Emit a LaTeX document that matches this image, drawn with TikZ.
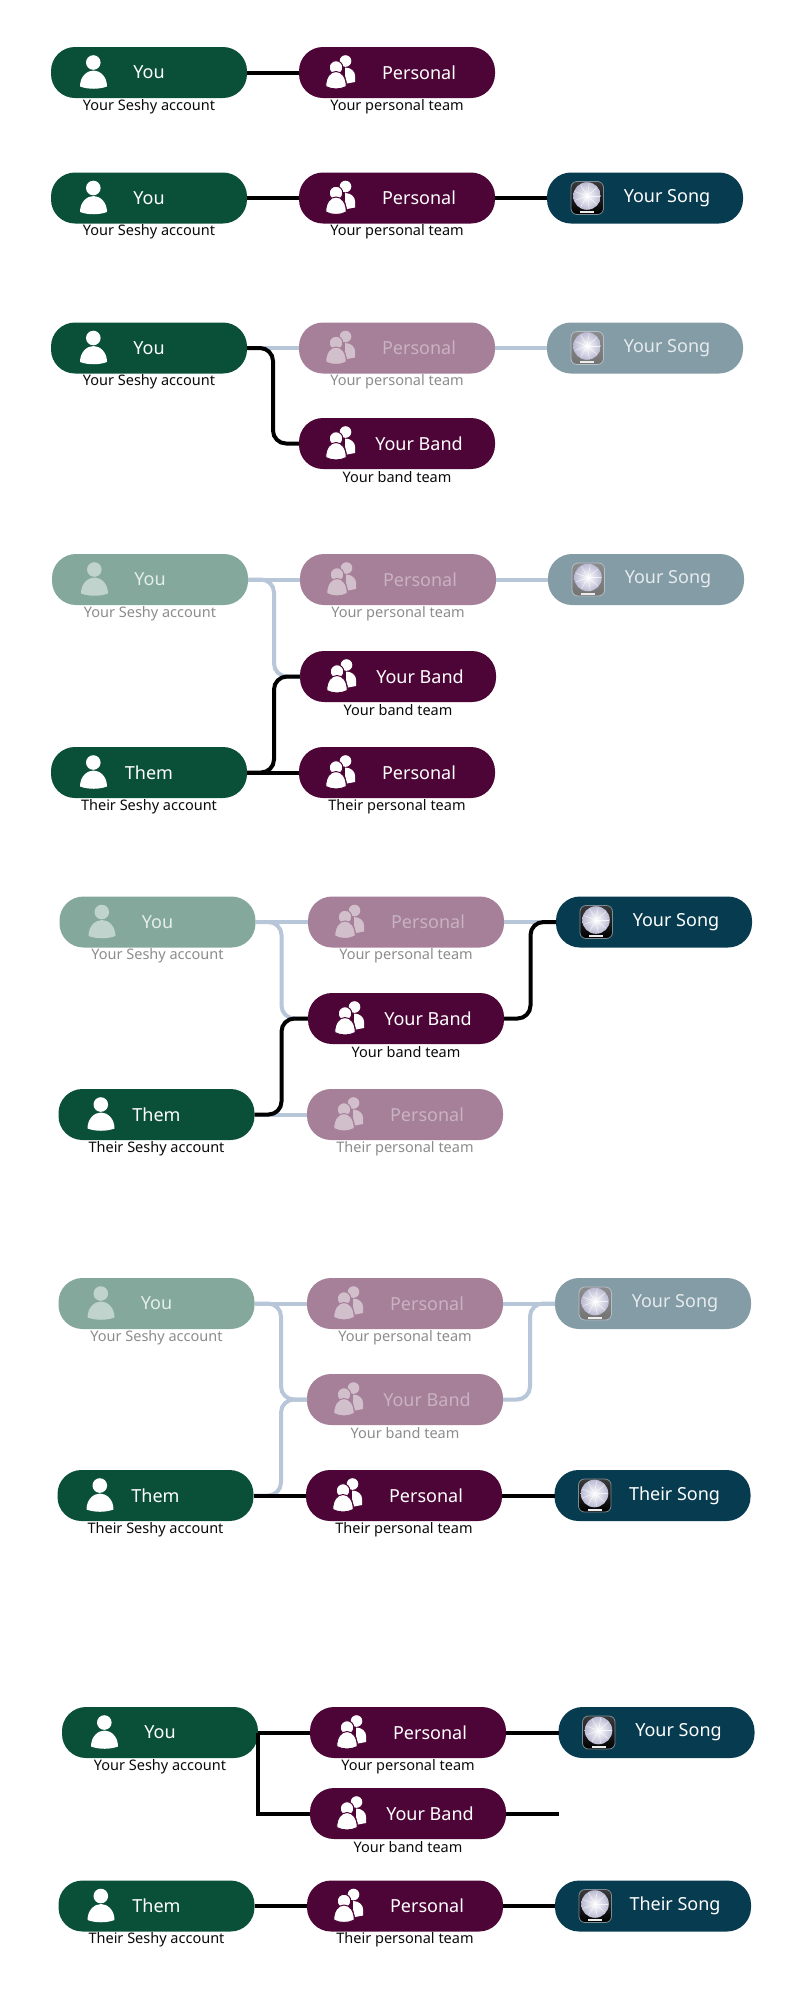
\documentclass[tikz,border=0pt]{standalone}
\usepackage{fontspec}
\setmainfont{Noto Sans}
\usetikzlibrary{calc}
\definecolor{pillpersonon}{HTML}{0A5039}
\definecolor{pillpersonoff}{HTML}{84A89B}
\definecolor{pillgroupon}{HTML}{4D0537}
\definecolor{pillgroupoff}{HTML}{A67F99}
\definecolor{pilldiscon}{HTML}{073B4F}
\definecolor{pilldiscoff}{HTML}{849CA6}
\definecolor{glyphpersonon}{HTML}{FFFFFF}
\definecolor{glyphpersonoff}{HTML}{C1D3CD}
\definecolor{glyphgroupon}{HTML}{FFFFFF}
\definecolor{glyphgroupoff}{HTML}{D2BFCC}
\definecolor{titlepersonon}{HTML}{FFFFFF}
\definecolor{titlepersonoff}{HTML}{E6EEEB}
\definecolor{titlegroupon}{HTML}{FFFFFF}
\definecolor{titlegroupoff}{HTML}{C9B2C2}
\definecolor{titlediscon}{HTML}{FFFFFF}
\definecolor{titlediscoff}{HTML}{E6EBED}
\definecolor{subon}{HTML}{0A0A0A}
\definecolor{suboff}{HTML}{8C8C8C}
\definecolor{paleline}{HTML}{B7C6D8}
\definecolor{squaretopon}{HTML}{3A3A3A}
\definecolor{squareboton}{HTML}{000000}
\definecolor{squaretopoff}{HTML}{8C8C8C}
\definecolor{squarebotoff}{HTML}{737373}
\definecolor{squareedgeon}{HTML}{7C8A94}
\definecolor{squareedgeoff}{HTML}{B5C0C6}
\tikzset{
  pillbox/.style={rectangle,rounded corners=24pt,minimum width=196pt,minimum height=51pt,inner sep=0pt,outer sep=0pt},
  titletext/.style={inner sep=0pt,font=\fontsize{18}{20}\selectfont,anchor=center},
  subtext/.style={inner sep=0pt,font=\fontsize{14.5}{16}\selectfont,anchor=center},
  darkline/.style={draw=black,line width=4pt},
  paleroute/.style={draw=paleline,line width=4pt,rounded corners=13pt},
  darkroute/.style={draw=black,line width=4pt,rounded corners=13pt},
  paleseg/.style={draw=paleline,line width=4pt},
}
\newcommand{\iconperson}[2]{%
  \fill[glyphperson#1] (42.3,-10) circle[radius=7.3];
  \fill[glyphperson#1] (29,14) .. controls (29,4) and (36,-2) .. (42.5,-2) .. controls (49,-2) and (56,4) .. (56,14) .. controls (48,17) and (37,17) .. (29,14) -- cycle;
}
\newcommand{\icongroup}[2]{%
  \fill[glyphgroup#1] (46.5,-11.5) circle[radius=5.8];
  \fill[glyphgroup#1] (46,-5) .. controls (52,-5) and (56,-1) .. (56,3) -- (56,9.5) -- (48,11) -- (46,3) -- cycle;
  \path[fill=glyphgroup#1,draw=pillgroup#1,line width=1pt] (37,-5) circle[radius=6.8];
  \path[fill=glyphgroup#1,draw=pillgroup#1,line width=1pt] (26.7,14) .. controls (26.7,5) and (31,-1) .. (37,-1) .. controls (43,-1) and (47.3,5) .. (47.3,14) .. controls (41,17.3) and (33,17.3) .. (26.7,14) -- cycle;
}
\newcommand{\icondisc}[2]{%
  \path[rounded corners=6pt,top color=squaretop#1,bottom color=squarebot#1,draw=squareedge#1,line width=0.8pt] (24,-16.5) rectangle (56.5,16.5);
  \shade[inner color=white,outer color=#2] (40,-2) circle[radius=13.8];
  \foreach \a in {0,40,...,320}{\draw[white,line width=0.5pt,opacity=0.7] (40,-2) -- ++(\a:13);}
  \fill[white!85!gray] (33,13) rectangle (47,15);
}
% name, cx, cy, kind, state, title shift, title, subtitle
\newcommand{\pill}[8]{%
  \node[pillbox,fill=pill#4#5] (#1) at (#2,#3) {};
  \begin{scope}[shift={(#1.west)}]
    \csname icon#4\endcsname{#5}{blue!22!gray!45!white}
  \end{scope}
  \node[titletext,text=title#4#5] (#1-t) at ($(#1.center)+(#6,0)$) {#7};
  \ifx&#8&\else\node[subtext,text=sub#5] (#1-s) at ($(#1.center)+(0,34)$) {#8};\fi
}
\begin{document}
\begin{tikzpicture}[x=1pt,y=-1pt]
\useasboundingbox[fill=white] (0,0) rectangle (800,2000);
% group 1
\pill{a1}{149}{72.5}{person}{on}{0}{You}{Your Seshy account}
\pill{a2}{397}{72.5}{group}{on}{22}{Personal}{Your personal team}
\draw[darkline] (a1.east) -- (a2.west);
% group 2
\pill{b1}{149}{198}{person}{on}{0}{You}{Your Seshy account}
\pill{b2}{397}{198}{group}{on}{22}{Personal}{Your personal team}
\pill{b3}{645}{198}{disc}{on}{22}{Your Song}{}
\draw[darkline] (b1.east) -- (b2.west);
\draw[darkline] (b2.east) -- (b3.west);
% group 3
\pill{c1}{149}{348}{person}{on}{0}{You}{Your Seshy account}
\pill{c2}{397}{348}{group}{off}{22}{Personal}{Your personal team}
\pill{c3}{645}{348}{disc}{off}{22}{Your Song}{}
\pill{c4}{397}{443.5}{group}{on}{22}{Your Band}{Your band team}
\coordinate (cv) at (273,0);
\draw[paleseg] (c1.east) -- (c2.west);
\draw[paleseg] (c2.east) -- (c3.west);
\draw[darkroute] (c1.east) -- (c1.east -| cv) -- (c4.west -| cv) -- (c4.west);
% group 4
\pill{d1}{150}{579.5}{person}{off}{0}{You}{Your Seshy account}
\pill{d2}{398}{579.5}{group}{off}{22}{Personal}{Your personal team}
\pill{d3}{646}{579.5}{disc}{off}{22}{Your Song}{}
\pill{d4}{398}{676.5}{group}{on}{22}{Your Band}{Your band team}
\pill{d5}{149}{772.5}{person}{on}{0}{Them}{Their Seshy account}
\pill{d6}{397}{772.5}{group}{on}{22}{Personal}{Their personal team}
\coordinate (dv) at (274,0);
\draw[paleseg] (d1.east) -- (d2.west);
\draw[paleseg] (d2.east) -- (d3.west);
\draw[paleroute] (d1.east) -- (d1.east -| dv) -- (d4.west -| dv) -- (d4.west);
\draw[darkroute] (d5.east) -- (d5.east -| dv) -- (d4.west -| dv) -- (d4.west);
\draw[darkline] (d5.east) -- (d6.west);
% group 5
\pill{e1}{157.5}{922}{person}{off}{0}{You}{Your Seshy account}
\pill{e2}{406}{922}{group}{off}{22}{Personal}{Your personal team}
\pill{e3}{654}{922}{disc}{on}{22}{Your Song}{}
\pill{e4}{406}{1018.5}{group}{on}{22}{Your Band}{Your band team}
\pill{e5}{156.5}{1114.5}{person}{on}{0}{Them}{Their Seshy account}
\pill{e6}{405}{1114.5}{group}{off}{22}{Personal}{Their personal team}
\coordinate (ev) at (281.5,0);
\coordinate (ew) at (530.5,0);
\draw[paleseg] (e1.east) -- (e2.west);
\draw[paleseg] (e2.east) -- (e3.west);
\draw[paleseg] (e5.east) -- (e6.west);
\draw[paleroute] (e1.east) -- (e1.east -| ev) -- (e4.west -| ev) -- (e4.west);
\draw[darkroute] (e5.east) -- (e5.east -| ev) -- (e4.west -| ev) -- (e4.west);
\draw[darkroute] (e4.east) -- (e4.east -| ew) -- (e3.west -| ew) -- (e3.west);
% group 6
\pill{f1}{156.5}{1303.5}{person}{off}{0}{You}{Your Seshy account}
\pill{f2}{405}{1303.5}{group}{off}{22}{Personal}{Your personal team}
\pill{f3}{653}{1303.5}{disc}{off}{22}{Your Song}{}
\pill{f4}{405}{1399.5}{group}{off}{22}{Your Band}{Your band team}
\pill{f5}{155.5}{1495.5}{person}{on}{0}{Them}{Their Seshy account}
\pill{f6}{404}{1495.5}{group}{on}{22}{Personal}{Their personal team}
\pill{f7}{652.5}{1495.5}{disc}{on}{22}{Their Song}{}
\coordinate (fv) at (281,0);
\coordinate (fw) at (530,0);
\draw[paleseg] (f1.east) -- (f2.west);
\draw[paleseg] (f2.east) -- (f3.west);
\draw[paleroute] (f1.east) -- (f1.east -| fv) -- (f4.west -| fv) -- (f4.west);
\draw[paleroute] (f5.east) -- (f5.east -| fv) -- (f4.west -| fv) -- (f4.west);
\draw[paleroute] (f4.east) -- (f4.east -| fw) -- (f3.west -| fw) -- (f3.west);
\draw[darkline] (f5.east) -- (f6.west);
\draw[darkline] (f6.east) -- (f7.west);
% group 7
\pill{g1}{160}{1732.5}{person}{on}{0}{You}{Your Seshy account}
\pill{g2}{408}{1732.5}{group}{on}{22}{Personal}{Your personal team}
\pill{g3}{656.5}{1732.5}{disc}{on}{22}{Your Song}{}
\pill{g4}{408}{1813.5}{group}{on}{22}{Your Band}{Your band team}
\pill{g5}{156.5}{1906}{person}{on}{0}{Them}{Their Seshy account}
\pill{g6}{405}{1906}{group}{on}{22}{Personal}{Their personal team}
\pill{g7}{653}{1906}{disc}{on}{22}{Their Song}{}
\coordinate (gend) at (558.5,1813.5);
\draw[darkline] (g1.east) -- (g2.west);
\draw[darkline] (g2.east) -- (g3.west);
\draw[darkline,line join=miter] (g1.east) -- (g4.west -| g1.east) -- (g4.west);
\draw[darkline] (g4.east) -- (gend);
\draw[darkline] (g5.east) -- (g6.west);
\draw[darkline] (g6.east) -- (g7.west);
\end{tikzpicture}
\end{document}
